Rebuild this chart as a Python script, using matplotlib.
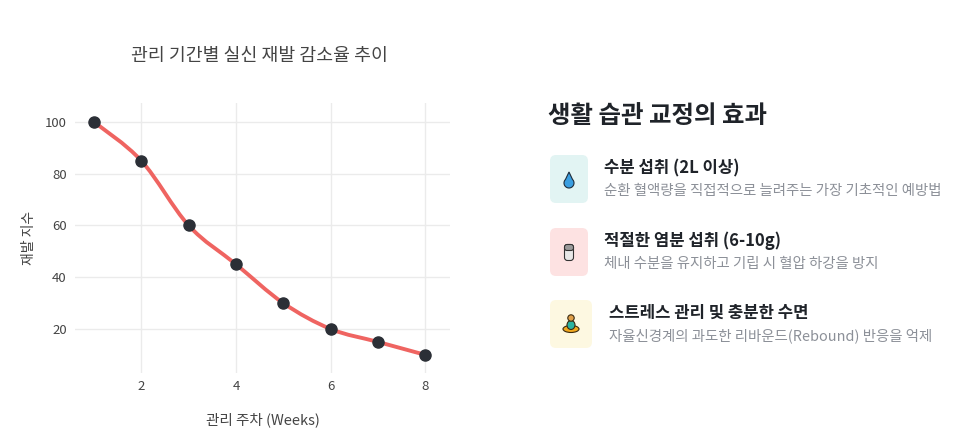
import numpy as np
import matplotlib.pyplot as plt
from matplotlib.path import Path
from matplotlib.patches import PathPatch, FancyBboxPatch, Circle, Ellipse, Polygon

plt.rcParams['font.family'] = ['Noto Sans CJK KR', 'DejaVu Sans']

# 데이터
weeks = [1, 2, 3, 4, 5, 6, 7, 8]
relapse_index = [100, 85, 60, 45, 30, 20, 15, 10]

chart_title = "관리 기간별 실신 재발 감소율 추이"
x_label = "관리 주차 (Weeks)"
y_label = "재발 지수"

panel_title = "생활 습관 교정의 효과"
item_titles = ["수분 섭취 (2L 이상)", "적절한 염분 섭취 (6-10g)", "스트레스 관리 및 충분한 수면"]
item_descs = ["순환 혈액량을 직접적으로 늘려주는 가장 기초적인 예방법",
              "체내 수분을 유지하고 기립 시 혈압 하강을 방지",
              "자율신경계의 과도한 리바운드(Rebound) 반응을 억제"]
item_colors = ["#e2f4f3", "#fde2e2", "#fdf8e1"]

W, H = 975, 443
fig = plt.figure(figsize=(W / 100, H / 100), dpi=100)

# 왼쪽 차트
ax = fig.add_axes([75 / W, 70 / H, 375 / W, 270 / H])
x = np.array(weeks, dtype=float)
y = np.array(relapse_index, dtype=float)

# Catmull-Rom 곡선 (베지어 제어점)
px = np.concatenate([[x[0]], x, [x[-1]]])
py = np.concatenate([[y[0]], y, [y[-1]]])
verts = [(x[0], y[0])]
codes = [Path.MOVETO]
for i in range(1, len(px) - 2):
    c1 = (px[i] + (px[i + 1] - px[i - 1]) / 6, py[i] + (py[i + 1] - py[i - 1]) / 6)
    c2 = (px[i + 1] - (px[i + 2] - px[i]) / 6, py[i + 1] - (py[i + 2] - py[i]) / 6)
    verts += [c1, c2, (px[i + 1], py[i + 1])]
    codes += [Path.CURVE4] * 3
ax.add_patch(PathPatch(Path(verts, codes), fill=False, edgecolor="#ef6461",
                       linewidth=2.8, capstyle="round", zorder=2))
ax.plot(x, y, "o", color="#2b2f36", markersize=8, zorder=3)

ax.set_xlim(0.6, 8.52)
ax.set_ylim(3, 107.3)
ax.set_xticks([2, 4, 6, 8])
ax.set_yticks([20, 40, 60, 80, 100])
ax.grid(True, color="#ebebeb", linewidth=1)
ax.set_axisbelow(True)
for s in ax.spines.values():
    s.set_visible(False)
ax.tick_params(length=0, labelsize=9.5, labelcolor="#444444")
ax.tick_params(axis="x", pad=5)
ax.tick_params(axis="y", pad=6)
ax.set_xlabel(x_label, fontsize=10.5, color="#444444", labelpad=14)
ax.set_ylabel(y_label, fontsize=10, color="#444444", labelpad=6)
fig.text(259 / W, 1 - 56 / H, chart_title, ha="center", va="center",
         fontsize=13.2, color="#444444")

# 오른쪽 패널 (픽셀 좌표)
pa = fig.add_axes([0, 0, 1, 1])
pa.set_xlim(0, W)
pa.set_ylim(H, 0)
pa.axis("off")

pa.text(548, 116, panel_title, fontsize=17.6, fontweight="bold", color="#1f2329",
        ha="left", va="center")

tops = [155, 228, 300]
box_w = [38, 38, 42]
text_x = [604, 604, 609]
for i in range(3):
    pa.add_patch(FancyBboxPatch((550 + 4, tops[i] + 4), box_w[i] - 8, 40,
                                boxstyle="round,pad=4,rounding_size=6",
                                facecolor=item_colors[i], edgecolor="none"))
    pa.text(text_x[i], tops[i] + 13, item_titles[i], fontsize=12, fontweight="bold",
            color="#1f2329", ha="left", va="center")
    pa.text(text_x[i], tops[i] + 36, item_descs[i], fontsize=10.4,
            color="#8c9098", ha="left", va="center")

# 아이콘: 물방울
cx, cy = 569, 180
t = np.linspace(-0.25 * np.pi, 1.25 * np.pi, 40)
drop = [(cx + 5 * np.cos(a), cy + 3 + 5 * np.sin(a)) for a in t] + [(cx, cy - 8)]
pa.add_patch(Polygon(drop, closed=True, facecolor="#3a9ee0", edgecolor="#1d2b3a", linewidth=0.8))

# 아이콘: 소금통
cx, cy = 569, 252
pa.add_patch(FancyBboxPatch((cx - 4, cy - 7), 8, 15, boxstyle="round,pad=0.5,rounding_size=3",
                            facecolor="#e8e8e8", edgecolor="#333333", linewidth=0.8))
pa.add_patch(FancyBboxPatch((cx - 4, cy - 7), 8, 5, boxstyle="round,pad=0.5,rounding_size=2.5",
                            facecolor="#9a9a9a", edgecolor="#333333", linewidth=0.8))

# 아이콘: 명상
cx, cy = 571, 324
pa.add_patch(Ellipse((cx, cy + 5), 16, 7, facecolor="#f2a81d", edgecolor="#3a2a10", linewidth=0.8))
pa.add_patch(Ellipse((cx, cy + 1), 8, 9, facecolor="#2bb3a0", edgecolor="#3a2a10", linewidth=0.8))
pa.add_patch(Circle((cx, cy - 6), 3.2, facecolor="#e0a04a", edgecolor="#3a2a10", linewidth=0.8))

fig.savefig("out.png", dpi=100, facecolor="white")
